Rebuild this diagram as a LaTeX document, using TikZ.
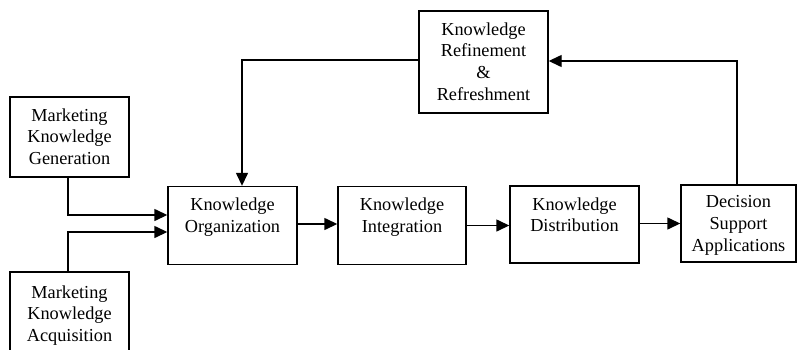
\documentclass[tikz,border=0pt]{standalone}
\usepackage{fontspec}
\setmainfont{Liberation Serif}
\usetikzlibrary{arrows.meta}
\begin{document}
\begin{tikzpicture}[x=1bp,y=-1bp,
  box/.style={draw, line width=1.4bp, inner sep=0pt},
  lbl/.style={anchor=north, inner sep=0pt, align=center,
    font=\fontsize{18.3bp}{21.7bp}\selectfont},
  arr/.style={line width=1.4bp, -{Triangle[length=13bp,width=12bp]}},
  ln/.style={line width=1.4bp}]
\useasboundingbox (0,0) rectangle (797,349);
% boxes
\node[box, minimum width=119bp, minimum height=80bp] (mkg) at (69.5,137) {};
\node[box, minimum width=119bp, minimum height=84bp] (mka) at (69.5,314) {};
\node[box, minimum width=129bp, minimum height=102bp] (krr) at (483.5,62) {};
\node[box, minimum width=129bp, minimum height=78bp] (ko) at (232.5,225.5) {};
\node[box, minimum width=128bp, minimum height=78bp] (ki) at (402,225.5) {};
\node[box, minimum width=129bp, minimum height=77bp] (kd) at (574.5,224.5) {};
\node[box, minimum width=115bp, minimum height=77bp] (dsa) at (738.5,223.5) {};
% labels
\node[lbl] (mkgt) at ([yshift=-12bp]mkg.north) {Marketing\\Knowledge\\Generation};
\node[lbl] (mkat) at ([yshift=-14bp]mka.north) {Marketing\\Knowledge\\Acquisition};
\node[lbl] (krrt) at ([yshift=-12bp]krr.north) {Knowledge\\Refinement\\\&\\Refreshment};
\node[lbl] (kot) at ([yshift=-12bp]ko.north) {Knowledge\\Organization};
\node[lbl] (kit) at ([yshift=-12bp]ki.north) {Knowledge\\Integration};
\node[lbl] (kdt) at ([yshift=-12bp]kd.north) {Knowledge\\Distribution};
\node[lbl] (dsat) at ([yshift=-11bp]dsa.north) {Decision\\Support\\Applications};
% connectors
\draw[arr] ([xshift=-1.5bp]mkg.south) |- ([yshift=10.5bp]ko.west);
\draw[arr] ([xshift=-1.5bp]mka.north) |- ([yshift=-6.5bp]ko.west);
\draw[arr] ([yshift=1.5bp]ko.east) -- ([yshift=1.5bp]ko.east -| ki.west);
\draw[arr] (ki.east) -- (ki.east -| kd.west);
\draw[arr] ([yshift=1bp]kd.east) -- ([yshift=1bp]kd.east -| dsa.west);
\draw[arr] ([xshift=-1.5bp]dsa.north) |- ([yshift=1bp]krr.east);
\draw[arr] ([yshift=2bp]krr.west) -| ([xshift=9.5bp]ko.north);
\end{tikzpicture}
\end{document}
